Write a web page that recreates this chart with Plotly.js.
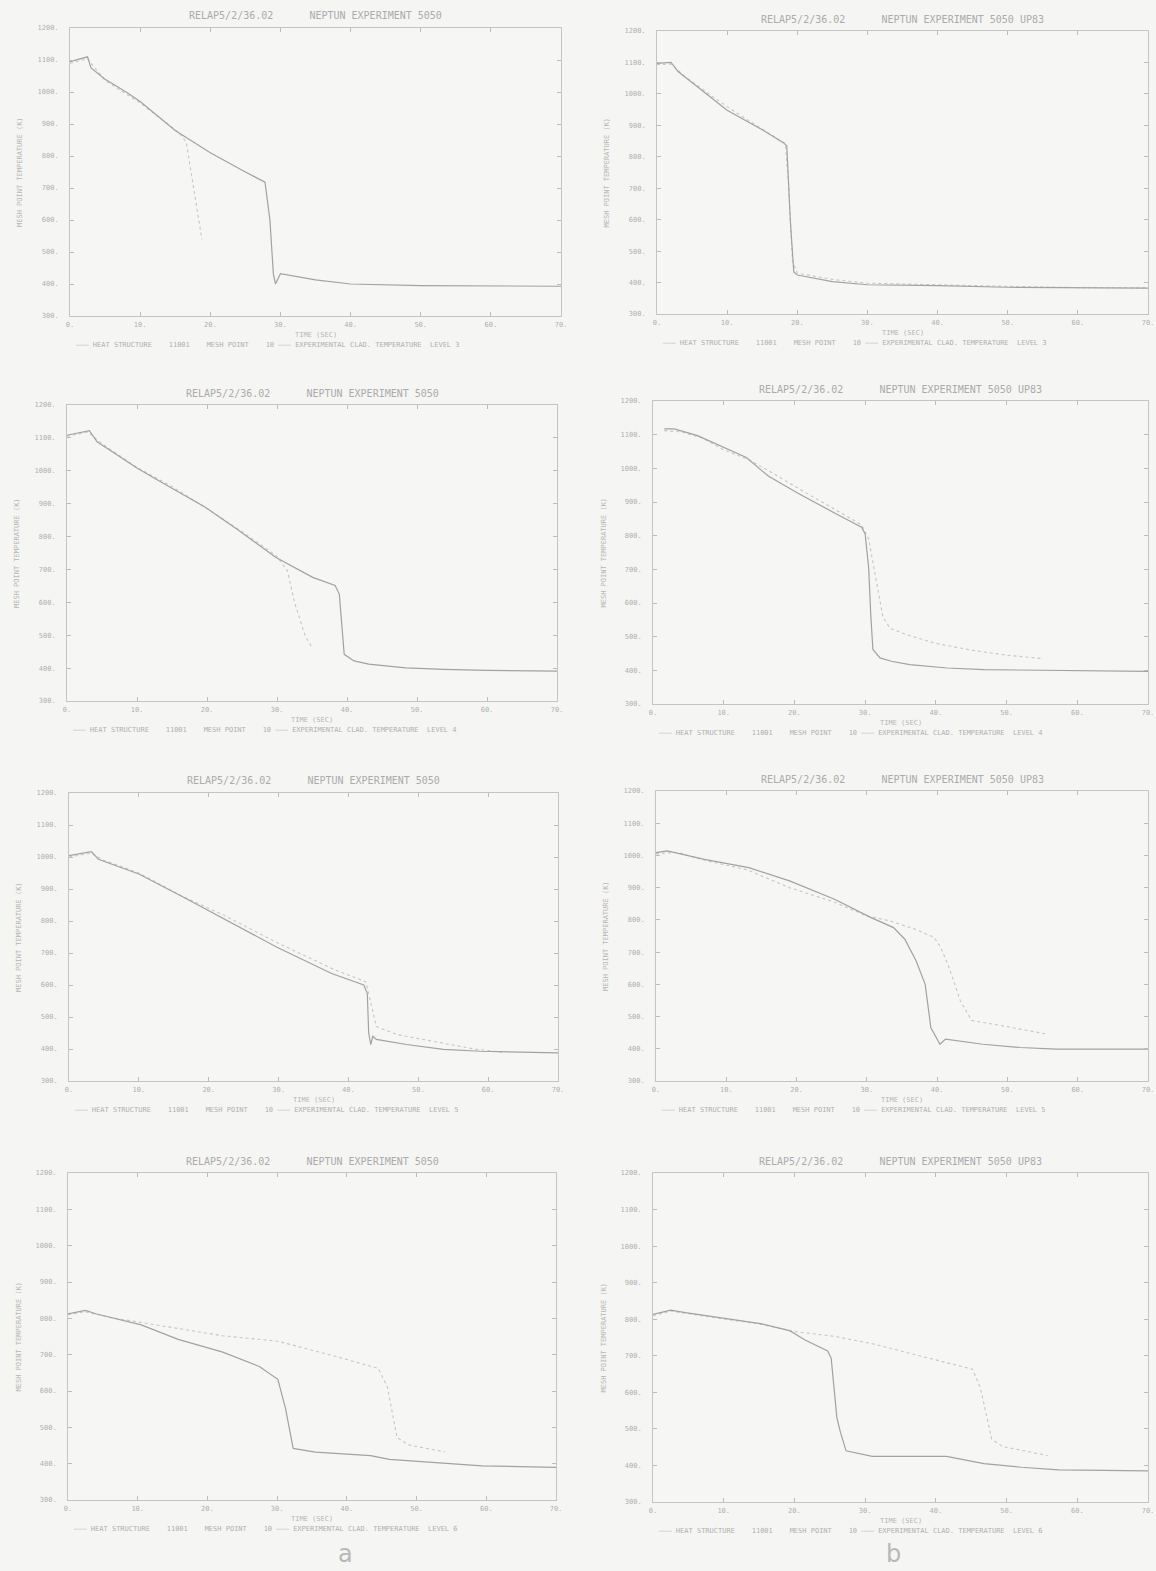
<!DOCTYPE html>
<html>
<head>
<meta charset="utf-8">
<script src="https://cdn.plot.ly/plotly-3.0.1.min.js"></script>
<style>html,body{margin:0;padding:0;background:#f5f5f4;}#chart{width:1156px;height:1571px;}</style>
</head>
<body>
<div id="chart"></div>
<script>
// ---------- DATA (time in s, temperature in K) ----------
const yTicks = [300, 400, 500, 600, 700, 800, 900, 1000, 1100, 1200];
const xTicks = [0, 10, 20, 30, 40, 50, 60, 70];

const titleLeft  = "RELAP5/2/36.02\u00a0\u00a0\u00a0\u00a0\u00a0\u00a0NEPTUN EXPERIMENT 5050";
const titleRight = "RELAP5/2/36.02\u00a0\u00a0\u00a0\u00a0\u00a0\u00a0NEPTUN EXPERIMENT 5050 UP83";
const levels = [3, 4, 5, 6];

// a1
const a1_tc = [0, 1.5, 2.5, 3, 5, 8, 10, 15, 20, 25, 27.8, 28.5, 29, 29.3, 30, 35, 40, 50, 60, 70];
const a1_Tc = [1095, 1105, 1110, 1075, 1040, 1000, 970, 880, 810, 750, 718, 600, 430, 400, 432, 413, 400, 395, 393, 393];
const a1_te = [0, 2.5, 5, 10, 15, 16, 16.6, 17.2, 18, 18.8];
const a1_Te = [1090, 1104, 1036, 966, 882, 862, 840, 760, 640, 540];
// b1
const b1_tc = [0, 2, 3, 5, 8, 10, 15, 18, 18.5, 19, 19.5, 20, 25, 30, 40, 50, 70];
const b1_Tc = [1097, 1100, 1071, 1035, 984, 948, 886, 845, 835, 600, 434, 424, 403, 393, 390, 385, 382];
const b1_te = [0, 2, 4, 8, 12, 16, 18.3, 18.8, 19.3, 20, 25, 30, 40, 50, 60, 70];
const b1_Te = [1093, 1095, 1055, 990, 930, 875, 842, 700, 470, 430, 410, 398, 392, 388, 384, 383];
// a2
const a2_tc = [0, 3.2, 4.3, 7.5, 10.1, 13.8, 19.7, 24.5, 29.8, 35.1, 38.3, 38.9, 39.6, 41, 43.1, 48.4, 53.8, 60, 70];
const a2_Tc = [1108, 1122, 1088, 1042, 1007, 961, 890, 819, 737, 676, 651, 625, 442, 422, 412, 401, 396, 393, 391];
const a2_te = [0, 3, 5, 10, 15, 20, 25, 30, 31.5, 32.5, 34, 35];
const a2_Te = [1105, 1118, 1082, 1010, 952, 885, 815, 740, 695, 600, 500, 462];
// b2
const b2_tc = [1.6, 3, 6.3, 10, 13.2, 16.3, 20.5, 25.8, 29.5, 30, 30.5, 30.8, 31.1, 32.1, 33.7, 36.3, 41.6, 46.8, 55, 70];
const b2_Tc = [1117, 1117, 1097, 1062, 1032, 977, 926, 866, 825, 805, 704, 563, 462, 437, 427, 417, 407, 402, 400, 397];
const b2_te = [1.6, 4, 7, 10, 13.7, 17, 21, 26, 29.5, 30.5, 31.5, 32.5, 33.5, 36, 40, 45, 50, 55];
const b2_Te = [1112, 1108, 1090, 1055, 1024, 985, 935, 875, 832, 790, 680, 560, 525, 505, 480, 460, 445, 435];
// a3
const a3_tc = [0, 3.2, 4.2, 10, 16.4, 21.7, 29.7, 37.6, 42.2, 42.7, 42.9, 43.2, 43.5, 44, 48.3, 53.6, 58.9, 70];
const a3_Tc = [1004, 1017, 993, 947, 874, 812, 719, 636, 600, 574, 450, 414, 440, 430, 414, 399, 393, 388];
const a3_te = [0, 3.2, 5, 10, 16, 22, 30, 38, 42.5, 43.2, 44, 47, 52, 58, 62];
const a3_Te = [1000, 1012, 990, 950, 880, 820, 730, 648, 610, 540, 470, 445, 425, 400, 390];
// b3
const b3_tc = [0, 1.6, 6.9, 13.2, 19, 25.4, 30.6, 33.8, 35.4, 37, 38.3, 39.1, 40.4, 41.2, 46.5, 51.8, 57, 70];
const b3_Tc = [1009, 1014, 988, 962, 921, 864, 807, 776, 740, 673, 600, 466, 414, 430, 414, 404, 399, 399];
const b3_te = [0, 3, 6.9, 13, 19, 25.4, 30, 33.3, 37, 39.6, 40.5, 41.7, 43.3, 44.9, 49.1, 55.5];
const b3_Te = [1005, 1010, 985, 955, 900, 855, 812, 797, 770, 745, 715, 652, 549, 488, 472, 446];
// a4
const a4_tc = [0, 2.5, 4.1, 10.5, 15.8, 22.2, 27.5, 30.1, 31.2, 32.3, 35.5, 43.4, 46.1, 54.1, 59.4, 70];
const a4_Tc = [812, 822, 812, 782, 742, 707, 667, 632, 552, 442, 432, 422, 412, 402, 394, 390];
const a4_te = [0, 2.5, 6.2, 15.8, 22.2, 30.1, 38.1, 44.5, 45.8, 47.2, 48.8, 54.1];
const a4_Te = [810, 818, 802, 772, 752, 737, 697, 662, 612, 472, 452, 432];
// b4
const b4_tc = [0, 2.5, 4.6, 9.9, 15.2, 19.4, 21.5, 24.7, 25.2, 26, 26.5, 27.3, 31, 41.5, 46.8, 52.1, 57.4, 70];
const b4_Tc = [813, 825, 818, 803, 788, 768, 743, 713, 693, 531, 491, 440, 425, 425, 405, 395, 388, 385];
const b4_te = [0, 2.5, 5, 10, 15.2, 20.5, 25.7, 31, 38.9, 45.2, 46.3, 47.9, 49.4, 55.8];
const b4_Te = [810, 822, 815, 800, 786, 765, 753, 733, 693, 663, 612, 472, 452, 427];

// ---------- LAYOUT ----------
const W = 1156, H = 1571;
const panels = [
  {tc:a1_tc, Tc:a1_Tc, te:a1_te, Te:a1_Te, box:[70, 561, 28, 316],   title:titleLeft,  lvl:levels[0]},
  {tc:b1_tc, Tc:b1_Tc, te:b1_te, Te:b1_Te, box:[657, 1148, 31, 314], title:titleRight, lvl:levels[0]},
  {tc:a2_tc, Tc:a2_Tc, te:a2_te, Te:a2_Te, box:[67, 557, 405, 701],  title:titleLeft,  lvl:levels[1]},
  {tc:b2_tc, Tc:b2_Tc, te:b2_te, Te:b2_Te, box:[653, 1148, 401, 704],title:titleRight, lvl:levels[1]},
  {tc:a3_tc, Tc:a3_Tc, te:a3_te, Te:a3_Te, box:[69, 558, 793, 1081], title:titleLeft, lvl:levels[2]},
  {tc:b3_tc, Tc:b3_Tc, te:b3_te, Te:b3_Te, box:[656, 1148, 791, 1081],title:titleRight,lvl:levels[2]},
  {tc:a4_tc, Tc:a4_Tc, te:a4_te, Te:a4_Te, box:[68, 556, 1173, 1500], title:titleLeft, lvl:levels[3]},
  {tc:b4_tc, Tc:b4_Tc, te:b4_te, Te:b4_Te, box:[653, 1148, 1173, 1502],title:titleRight,lvl:levels[3]}
];

const inkDark = '#a2a2a2', inkLight = '#c6c6c6', txt = '#b0b0b0';
const mono = '"DejaVu Sans Mono", "Liberation Mono", monospace';
const traces = [], annotations = [];
const layout = {
  width: W, height: H,
  margin: {l:0, r:0, t:0, b:0},
  paper_bgcolor: '#f5f5f4', plot_bgcolor: '#f6f6f5',
  showlegend: false,
  font: {family: mono, color: txt}
};

panels.forEach((p, i) => {
  const n = i + 1;
  const xa = n === 1 ? 'xaxis' : 'xaxis' + n;
  const ya = n === 1 ? 'yaxis' : 'yaxis' + n;
  const xr = n === 1 ? 'x' : 'x' + n;
  const yr = n === 1 ? 'y' : 'y' + n;
  const [x0, x1, y0, y1] = p.box;
  layout[xa] = {
    domain: [x0 / W, x1 / W], anchor: yr, range: [0, 70],
    tickvals: xTicks, ticktext: xTicks.map(v => v + '.'),
    ticks: 'inside', ticklen: 4, tickcolor: '#bcbcbc', mirror: 'ticks',
    showline: true, linecolor: '#c4c4c4', linewidth: 1,
    showgrid: false, zeroline: false, ticklabelstandoff: 2,
    tickfont: {family: mono, size: 7, color: txt}
  };
  layout[ya] = {
    domain: [1 - y1 / H, 1 - y0 / H], anchor: xr, range: [300, 1200],
    tickvals: yTicks, ticktext: yTicks.map(v => v + '.'),
    ticks: 'inside', ticklen: 4, tickcolor: '#bcbcbc', mirror: 'ticks',
    showline: true, linecolor: '#c4c4c4', linewidth: 1,
    showgrid: false, zeroline: false, ticklabelstandoff: 9,
    tickfont: {family: mono, size: 7, color: txt}
  };
  traces.push({x: p.te, y: p.Te, xaxis: xr, yaxis: yr, mode: 'lines',
    line: {color: inkLight, width: 1.1, dash: 'dot'}, hoverinfo: 'skip'});
  traces.push({x: p.tc, y: p.Tc, xaxis: xr, yaxis: yr, mode: 'lines',
    line: {color: inkDark, width: 1.2}, hoverinfo: 'skip'});

  const cx = (x0 + x1) / 2 / W;
  annotations.push({xref:'paper', yref:'paper', x: cx, xanchor: 'center', y: 1 - (y0 - 12) / H, yanchor: 'middle',
    text: p.title, showarrow: false, font: {family: mono, size: 10, color: '#ababab'}});
  annotations.push({xref:'paper', yref:'paper', x: (x0 - 50) / W, xanchor: 'center', y: 1 - (y0 + y1) / 2 / H, yanchor: 'middle',
    text: 'MESH POINT TEMPERATURE (K)', textangle: -90, showarrow: false,
    font: {family: mono, size: 7, color: '#b5b5b5'}});
  annotations.push({xref:'paper', yref:'paper', x: cx, xanchor: 'center', y: 1 - (y1 + 19) / H, yanchor: 'middle',
    text: 'TIME (SEC)', showarrow: false, font: {family: mono, size: 7, color: '#b5b5b5'}});
  const sp = '\u00a0\u00a0\u00a0\u00a0';
  annotations.push({xref:'paper', yref:'paper', x: (x0 + 4) / W, xanchor: 'left', y: 1 - (y1 + 29) / H, yanchor: 'middle',
    text: '\u2014\u2014\u2014 HEAT STRUCTURE' + sp + '11001' + sp + 'MESH POINT' + sp + '10 \u2014\u2014\u2014 EXPERIMENTAL CLAD. TEMPERATURE\u00a0\u00a0LEVEL ' + p.lvl,
    showarrow: false, font: {family: mono, size: 7, color: '#b0b0b0'}});
});

annotations.push({xref:'paper', yref:'paper', x: 345 / W, xanchor: 'center', y: 1 - 1554 / H, yanchor: 'middle', text: 'a',
  showarrow: false, font: {family: '"DejaVu Sans", sans-serif', size: 24, color: '#b8b8b8'}});
annotations.push({xref:'paper', yref:'paper', x: 893 / W, xanchor: 'center', y: 1 - 1554 / H, yanchor: 'middle', text: 'b',
  showarrow: false, font: {family: '"DejaVu Sans", sans-serif', size: 24, color: '#b8b8b8'}});

layout.annotations = annotations;
Plotly.newPlot('chart', traces, layout, {staticPlot: true, displayModeBar: false});
</script>
</body>
</html>
